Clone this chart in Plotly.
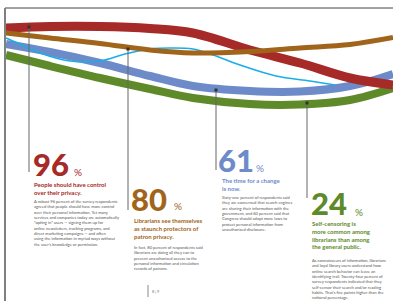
import plotly.graph_objects as go

# ---------------- data ----------------
x_grid = [6, 50, 100, 150, 193, 250, 300, 350, 393]
red_y = [28, 26.5, 26.5, 28.5, 33, 50, 63, 78, 85]
brown_y = [33, 38, 43.5, 50, 53, 51.5, 48, 44.5, 37.5]
blue_y = [44, 52, 63, 76, 86, 91, 91.5, 86, 74]
green_y = [55, 66, 78, 89, 98, 104, 104.5, 100, 88]
cyan_x = [6, 22, 40, 70, 100, 125, 150, 170, 193, 213, 243, 276, 310, 335]
cyan_y = [38, 45, 53, 61, 61, 54, 49, 48, 49, 55, 66, 76, 81, 85]

callout_x = [29, 128, 216, 307]
callout_y = [27, 49, 90, 103]
leader_end = [172, 210, 170, 198]

percent_values = ["96", "80", "61", "24"]
headings = [
    ["People should have control", "over their privacy."],
    ["Librarians see themselves", "as staunch protectors of", "patron privacy."],
    ["The time for a change", "is now."],
    ["Self-censoring is", "more common among", "librarians than among", "the general public."],
]
bodies = [
    ["A robust 96 percent of the survey respondents",
     "agreed that people should have more control",
     "over their personal information. Yet many",
     "services and companies today are automatically",
     "\u201copting in\u201d users \u2014 signing them up for",
     "online newsletters, tracking programs, and",
     "direct marketing campaigns \u2014 and often",
     "using the information in myriad ways without",
     "the user\u2019s knowledge or permission."],
    ["In fact, 80 percent of respondents said",
     "librarians are doing all they can to",
     "prevent unauthorized access to the",
     "personal information and circulation",
     "records of patrons."],
    ["Sixty-one percent of respondents said",
     "they are concerned that search engines",
     "are sharing their information with the",
     "government, and 60 percent said that",
     "Congress should adopt more laws to",
     "protect personal information from",
     "unauthorized disclosure."],
    ["As connoisseurs of information, librarians",
     "and loyal library users understand how",
     "online search behavior can leave an",
     "identifying trail. Twenty-four percent of",
     "survey respondents indicated that they",
     "self-censor their search and/or reading",
     "habits. That\u2019s five points higher than the",
     "national percentage."],
]
page_label = "8 | 9"

# ---------------- styling / layout ----------------
RED = "#a62a27"
BROWN = "#a0651a"
BLUE = "#6e8bc9"
GREEN = "#5e8a2a"
CYAN = "#1aaee8"
BODY = "#555555"
block_colors = [RED, BROWN, BLUE, GREEN]

NUM_SIZE = 31
PCT_SIZE = 10
HEAD_SIZE = 6
BODY_SIZE = 4.1

# block layout: number x / center y, % x / center y, heading x / first-line center, body x / first-line center
blocks = [
    dict(nx=32, ny=163.5, px=73, py=171.5, hx=33, hy=183.5, bx=33, by=200.5),
    dict(nx=130, ny=198.5, px=173, py=206, hx=133, hy=220, bx=133, by=247),
    dict(nx=217, ny=160, px=255, py=167.5, hx=221, hy=179.5, bx=221, by=196.2),
    dict(nx=310, ny=203.3, px=354, py=212, hx=311, hy=223.3, bx=311, by=259.5),
]

FONT = "Lato"

fig = go.Figure()

def curve(x, y, color, width):
    fig.add_trace(go.Scatter(x=x, y=y, mode="lines",
                             line=dict(color=color, width=width, shape="spline", smoothing=1.0),
                             hoverinfo="skip", showlegend=False))

curve(x_grid, green_y, GREEN, 8)
curve(x_grid, blue_y, BLUE, 8)
curve(cyan_x, cyan_y, CYAN, 1.6)
curve(x_grid, red_y, RED, 9)
curve(x_grid, brown_y, BROWN, 5)

# leader lines from callout markers down to the numbers
for cx, cy, ey in zip(callout_x, callout_y, leader_end):
    fig.add_trace(go.Scatter(x=[cx, cx], y=[cy, ey], mode="lines",
                             line=dict(color="#666666", width=1),
                             hoverinfo="skip", showlegend=False))
fig.add_trace(go.Scatter(x=callout_x, y=callout_y, mode="markers",
                         marker=dict(color="#333333", size=3, symbol="square"),
                         hoverinfo="skip", showlegend=False))

ann = []
def txt(x, y, s, size, color, weight="normal", anchor="middle"):
    ann.append(dict(x=x, y=y, xref="x", yref="y", text=s,
                    showarrow=False, xanchor="left", yanchor=anchor, align="left",
                    borderpad=0, font=dict(family=FONT, size=size, color=color, weight=weight)))

for i, b in enumerate(blocks):
    c = block_colors[i]
    txt(b["nx"], b["ny"], percent_values[i], NUM_SIZE, c, weight=900)
    txt(b["px"], b["py"], "%", PCT_SIZE, c)
    txt(b["hx"], b["hy"] - 0.65 * HEAD_SIZE, "<br>".join(headings[i]), HEAD_SIZE, c,
        weight="bold", anchor="top")
    txt(b["bx"], b["by"] - 0.65 * BODY_SIZE, "<br>".join(bodies[i]), BODY_SIZE, BODY,
        anchor="top")

txt(151, 291, page_label, 3.8, "#777777")

shapes = [
    dict(type="line", xref="x", yref="y", x0=5, x1=393, y0=8, y1=8,
         line=dict(color="#444444", width=1)),
    dict(type="line", xref="x", yref="y", x0=5, x1=5, y0=8, y1=301,
         line=dict(color="#808080", width=2)),
    dict(type="line", xref="x", yref="y", x0=148, x1=148, y0=285, y1=297,
         line=dict(color="#888888", width=1)),
]

fig.update_layout(
    width=393, height=301,
    margin=dict(l=0, r=0, t=0, b=0),
    paper_bgcolor="white", plot_bgcolor="white",
    xaxis=dict(range=[0, 393], visible=False, fixedrange=True),
    yaxis=dict(range=[301, 0], visible=False, fixedrange=True),
    annotations=ann, shapes=shapes,
)

fig.write_html("out.html", config={"displayModeBar": False},
               post_script="document.body.style.margin='0';document.body.style.overflow='hidden';")
